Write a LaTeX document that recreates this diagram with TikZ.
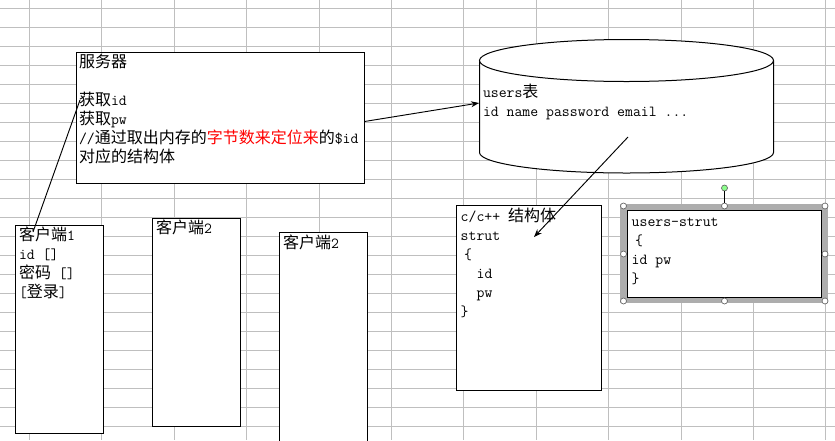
\documentclass[tikz,border=0pt]{standalone}
\usepackage{fontspec}
\newfontfamily\cjkfont{Noto Sans CJK SC}
\usetikzlibrary{arrows.meta,fit,calc}
\newcommand\myzh{\fontsize{12pt}{14pt}\selectfont\cjkfont}
\newcommand\mylt{\fontsize{11.5pt}{14pt}\selectfont\ttfamily}
\begin{document}
\begin{tikzpicture}[x=0.75pt,y=-0.75pt,
  gridc/.style={draw=black!25,line width=0.75pt},
  box/.style={draw=black,line width=0.75pt,fill=white,inner sep=0pt,rectangle},
  txt/.style={anchor=base west,inner sep=0pt,outer sep=0pt},
  arr/.style={-{Stealth[length=6pt,width=4.5pt]},line width=0.7pt},
  conn/.style={line width=0.7pt},
  handle/.style={circle,draw=black!60,fill=white,minimum size=4.5pt,inner sep=0pt,line width=0.5pt}]
\path[use as bounding box] (0,0) rectangle (835,440);
\clip (0,0) rectangle (835,440);
\fill[white] (0,0) rectangle (835,440);
% spreadsheet grid
\foreach \k in {0,...,11} \draw[gridc] ({29.5+72.4*\k},0) -- ({29.5+72.4*\k},440);
\foreach \k in {0,...,22} \draw[gridc] (0,{8.3+19.02*\k}) -- (835,{8.3+19.02*\k});

% server box
\node[box,fit={(76,52) (364,183)}] (srv) {};
\node[txt] (srv1) at (79,67) {\myzh 服务器};
\node[txt] (srv2) at (79,105) {{\myzh 获取}{\mylt id}};
\node[txt] (srv3) at (79,124) {{\myzh 获取}{\mylt pw}};
\node[txt] (srv4) at (79,143) {{\mylt //}{\myzh 通过取出内存的}{\myzh\color{red}字节数来定位来}{\myzh 的}{\mylt \$id}};
\node[txt] (srv5) at (79,162) {\myzh 对应的结构体};

% database cylinder
\fill[white] (479.5,60.5) -- (479.5,152.5) arc[start angle=180,end angle=0,x radius=147,y radius=20.5] -- (773.5,60.5) -- cycle;
\draw[line width=0.75pt] (479.5,60.5) -- (479.5,152.5) arc[start angle=180,end angle=0,x radius=147,y radius=20.5] -- (773.5,60.5);
\draw[line width=0.75pt,fill=white] (626.5,60.5) ellipse[x radius=147,y radius=21];
\node[txt] (db1) at (483,97) {{\mylt users}{\myzh 表}};
\node[txt] (db2) at (483,116) {\mylt id name password email ...};
\coordinate (dbw) at (479,103);
\coordinate (dbin) at (628,137);

% clients
\node[box,fit={(15,225) (103,433)}] (c1) {};
\node[txt] (c1a) at (19,240) {{\myzh 客户端}{\mylt 1}};
\node[txt] (c1b) at (19,259) {\mylt id []};
\node[txt] (c1c) at (19,278) {{\myzh 密码}{\mylt\ []}};
\node[txt] (c1d) at (19,297) {{\mylt [}{\myzh 登录}{\mylt ]}};
\node[box,fit={(152.3,218.3) (240.3,426.3)}] (c2) {};
\node[txt] (c2a) at (156,233) {{\myzh 客户端}{\mylt 2}};
\node[box,fit={(279.3,232.3) (367.3,460)}] (c3) {};
\node[txt] (c3a) at (283,248) {{\myzh 客户端}{\mylt 2}};

% c/c++ struct box
\node[box,fit={(456.7,205) (601.7,390.7)}] (st) {};
\node[txt] (st1) at (460.7,221) {{\mylt c/c++ }{\myzh 结构体}};
\node[txt] (st2) at (460.7,240) {\mylt strut};
\node[txt] (st3) at (460.7,259) {\mylt\hspace*{2.5pt}\{};
\node[txt] (st4) at (460.7,278) {\mylt\hspace*{12pt}id};
\node[txt] (st5) at (460.7,297) {\mylt\hspace*{12pt}pw};
\node[txt] (st6) at (460.7,316) {\mylt \}};
\coordinate (stin) at (534,237);

% users-strut box (selected)
\fill[black!32] (620,203.5) rectangle (828,303);
\node[box,line width=1.1pt,fit={(627.3,210.7) (821.7,297.3)}] (us) {};
\node[txt] (us1) at (631.7,226) {\mylt users-strut};
\node[txt] (us2) at (631.7,245) {\mylt\hspace*{2.5pt}\{};
\node[txt] (us3) at (631.7,264) {\mylt id pw};
\node[txt] (us4) at (631.7,283) {\mylt \}};
\node[handle] (h1) at (623.5,206) {};
\node[handle] (h2) at (724.5,206) {};
\node[handle] (h3) at (825,206) {};
\node[handle] (h4) at (623.5,254) {};
\node[handle] (h5) at (825,254) {};
\node[handle] (h6) at (623.5,301) {};
\node[handle] (h7) at (724.5,301) {};
\node[handle] (h8) at (825,301) {};
\node[handle,fill=green!45!white] (hr) at (724.5,188) {};
\draw[line width=0.6pt] (hr) -- (h2);

% connectors
\coordinate (c1in) at (33,232);
\coordinate (srvin) at (80,100);
\draw[conn] (c1in) -- (srvin);
\draw[arr] ($(srv.east)+(0,4)$) -- (dbw);
\draw[arr] (dbin) -- (stin);
\end{tikzpicture}
\end{document}
